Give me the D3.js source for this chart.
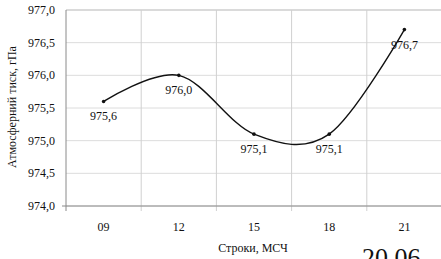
<!DOCTYPE html>
<html>
<head>
<meta charset="utf-8">
<script src="https://cdn.jsdelivr.net/npm/d3@7"></script>
<style>
  body { margin: 0; background: #fff; }
</style>
</head>
<body>
<svg id="chart" width="441" height="259" font-family="'Liberation Serif', 'Times New Roman', 'DejaVu Serif', serif"></svg>
<script>
var hours = ["09", "12", "15", "18", "21"];
var pressure = [975.6, 976.0, 975.1, 975.1, 976.7];
var yTicks = [974.0, 974.5, 975.0, 975.5, 976.0, 976.5, 977.0];

var svg = d3.select("#chart");
var m = { left: 66, top: 10, right: 442, bottom: 206 };
var fmt = function(v) { return d3.format(".1f")(v).replace(".", ","); };

var x = d3.scaleBand().domain(hours).range([m.left, m.right]);
var y = d3.scaleLinear().domain([974, 977]).range([m.bottom, m.top]);

// horizontal grid
svg.append("g").selectAll("line").data(yTicks).join("line")
  .attr("x1", m.left).attr("x2", 441)
  .attr("y1", function(d) { return y(d); }).attr("y2", function(d) { return y(d); })
  .attr("stroke", function(d) { return d === 977 ? "#b5b5b5" : "#dcdcdc"; })
  .attr("stroke-width", 1);

// vertical grid between categories
var bounds = hours.slice(1).map(function(h) { return x(h); });
svg.append("g").selectAll("line").data(bounds).join("line")
  .attr("x1", function(d) { return d; }).attr("x2", function(d) { return d; })
  .attr("y1", m.top).attr("y2", m.bottom + 5)
  .attr("stroke", "#d0d0d0");

// axes
svg.append("line").attr("x1", m.left).attr("x2", m.left)
  .attr("y1", m.top).attr("y2", m.bottom + 5).attr("stroke", "#8a8a8a");
svg.append("line").attr("x1", m.left - 4).attr("x2", 441)
  .attr("y1", m.bottom).attr("y2", m.bottom).attr("stroke", "#8a8a8a");

// y labels
svg.append("g").selectAll("text").data(yTicks).join("text")
  .attr("x", 55).attr("y", function(d) { return y(d) + 4; })
  .attr("text-anchor", "end").attr("font-size", 12)
  .attr("fill", "#111")
  .text(fmt);

// x labels
svg.append("g").selectAll("text").data(hours).join("text")
  .attr("x", function(d) { return x(d) + x.bandwidth() / 2; })
  .attr("y", 231).attr("text-anchor", "middle").attr("font-size", 12)
  .attr("fill", "#111")
  .text(function(d) { return d; });

// titles
svg.append("text").attr("x", 253).attr("y", 252).attr("text-anchor", "middle")
  .attr("font-size", 12).attr("fill", "#111").text("Строки, МСЧ");
svg.append("text").attr("transform", "translate(16,107) rotate(-90)")
  .attr("text-anchor", "middle").attr("font-size", 12).attr("fill", "#111")
  .text("Атмосферний тиск, гПа");
svg.append("text").attr("x", 362).attr("y", 266).attr("font-size", 26)
  .attr("fill", "#111").text("20.06");

// line
var pts = hours.map(function(h, i) { return [x(h) + x.bandwidth() / 2, y(pressure[i])]; });
svg.append("path").datum(pts)
  .attr("d", d3.line().curve(d3.curveCatmullRom.alpha(0)))
  .attr("fill", "none").attr("stroke", "#111").attr("stroke-width", 1.4);

svg.append("g").selectAll("circle").data(pts).join("circle")
  .attr("cx", function(d) { return d[0]; }).attr("cy", function(d) { return d[1]; })
  .attr("r", 1.8).attr("fill", "#111");

// data labels
svg.append("g").selectAll("text").data(pts).join("text")
  .attr("x", function(d) { return d[0]; })
  .attr("y", function(d) { return d[1] + 19; })
  .attr("text-anchor", "middle").attr("font-size", 12).attr("fill", "#111")
  .text(function(d, i) { return fmt(pressure[i]); });
</script>
</body>
</html>
